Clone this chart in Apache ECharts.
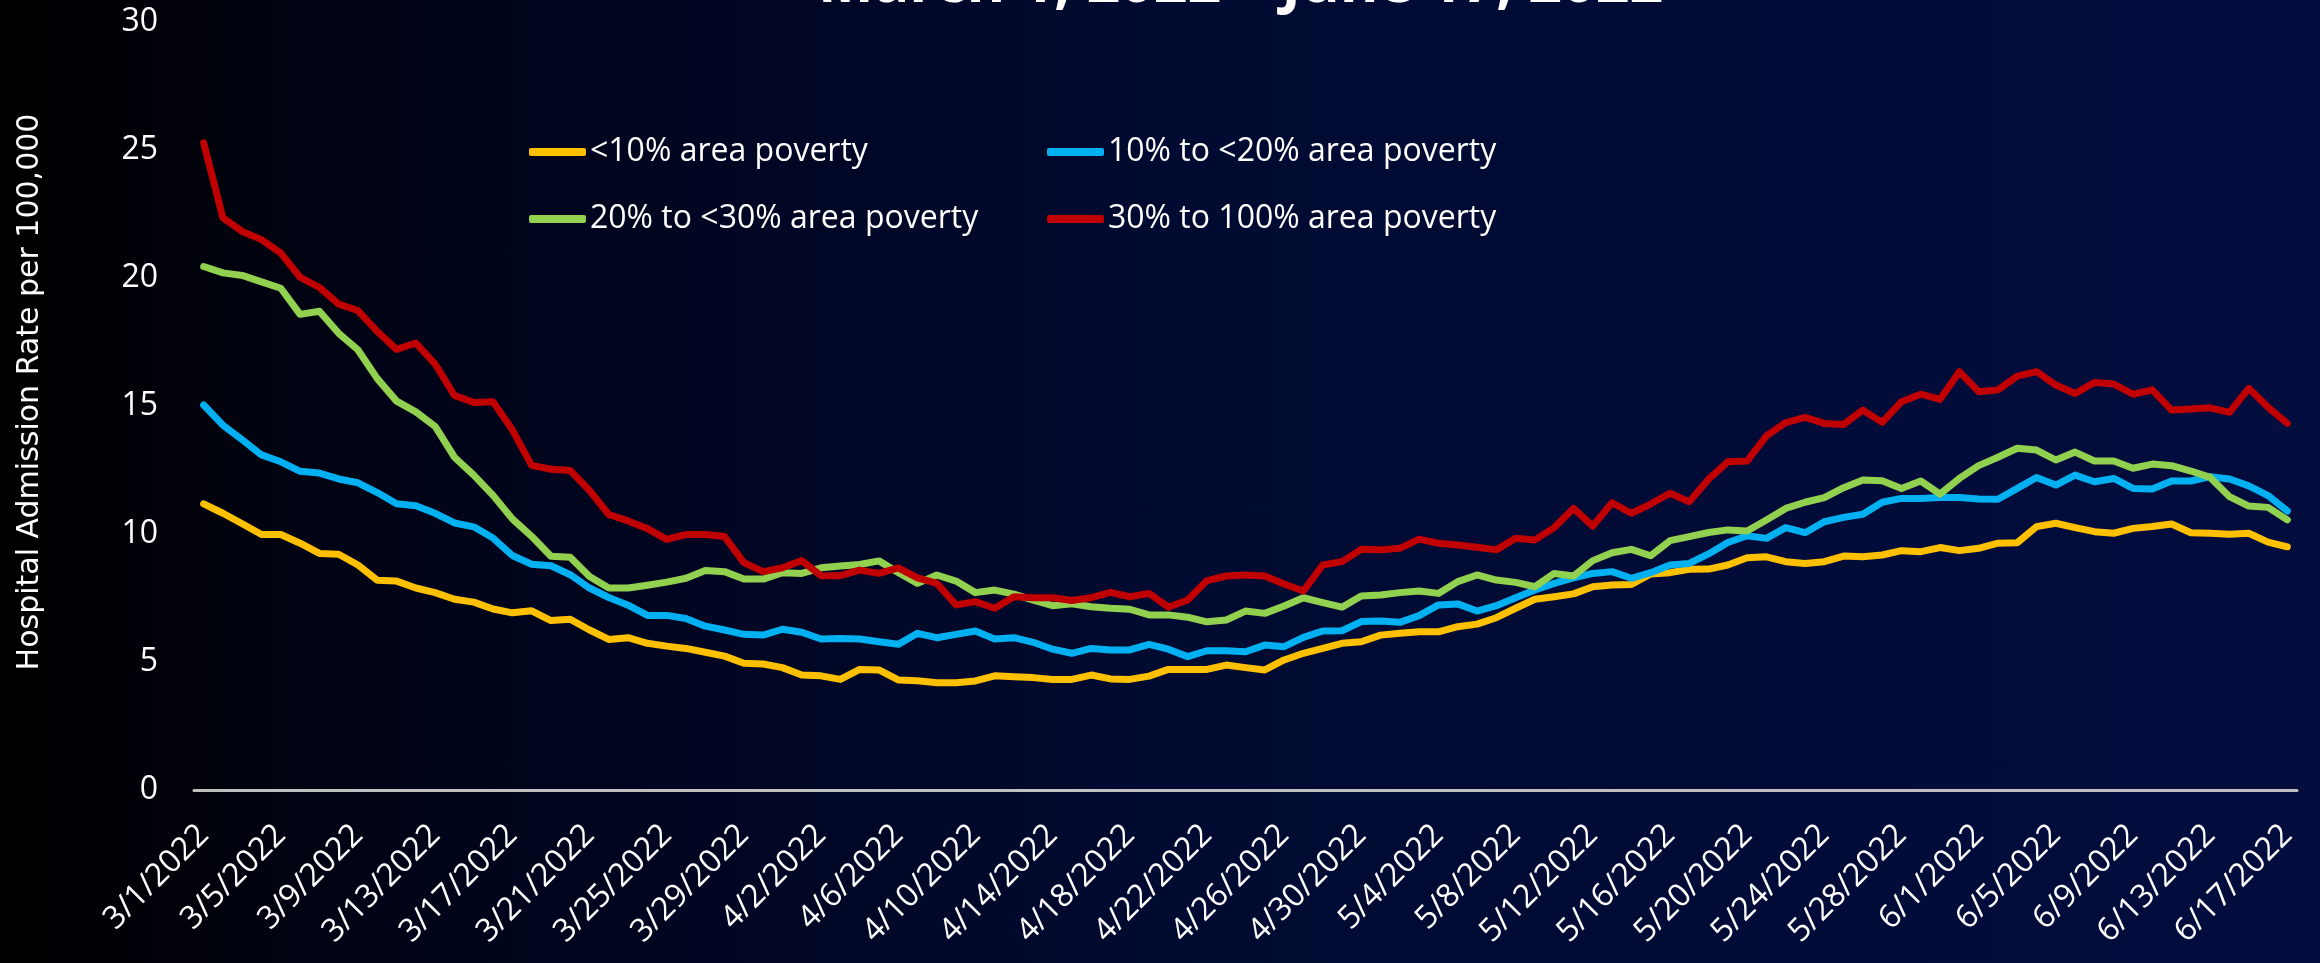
<!DOCTYPE html>
<html>
<head>
<meta charset="utf-8">
<script src="https://cdn.jsdelivr.net/npm/echarts@6/dist/echarts.min.js"></script>
<style>
  html, body { margin: 0; padding: 0; }
  #chart {
    width: 2320px;
    height: 963px;
    background: linear-gradient(to right, #000000 0%, #00041a 20%, #010a30 50%, #030d3e 100%);
  }
</style>
</head>
<body>
<div id="chart"></div>
<script>
// daily labels 3/1/2022 .. 6/17/2022
const monthDays = [[3, 31], [4, 30], [5, 31], [6, 17]];
const dates = [];
monthDays.forEach(([m, n]) => {
  for (let d = 1; d <= n; d++) dates.push(m + '/' + d + '/2022');
});

const seriesNames = ['<10% area poverty', '10% to <20% area poverty', '20% to <30% area poverty', '30% to 100% area poverty'];
const colorList = ['#FFC000', '#00B0F0', '#92D050', '#C00000'];

const yTicks = [0, 5, 10, 15, 20, 25, 30];

const lt10 = [11.18, 10.81, 10.4, 9.98, 9.98, 9.64, 9.24, 9.21, 8.79, 8.19, 8.16, 7.89, 7.71, 7.45, 7.34, 7.07, 6.92, 7.0, 6.62, 6.67, 6.25, 5.88, 5.95, 5.73, 5.62, 5.53, 5.38,
  5.23, 4.95, 4.92, 4.78, 4.49, 4.46, 4.32, 4.71, 4.69, 4.3, 4.27, 4.19, 4.19, 4.26, 4.46, 4.42, 4.39, 4.32, 4.32, 4.49, 4.34, 4.32, 4.45, 4.71, 4.71, 4.71, 4.88,
  4.78, 4.69, 5.08, 5.34, 5.53, 5.73, 5.79, 6.05, 6.12, 6.18, 6.18, 6.38, 6.48, 6.73, 7.1, 7.45, 7.55, 7.66, 7.94, 8.01, 8.03, 8.44, 8.49, 8.62, 8.63, 8.79, 9.07,
  9.11, 8.92, 8.85, 8.92, 9.14, 9.11, 9.18, 9.35, 9.31, 9.47, 9.35, 9.44, 9.64, 9.66, 10.29, 10.42, 10.25, 10.09, 10.03, 10.22, 10.29, 10.39, 10.05, 10.03, 9.99, 10.03, 9.68, 9.5];

const p10to20 = [15.04, 14.25, 13.68, 13.09, 12.82, 12.45, 12.38, 12.15, 12.0, 11.62, 11.18, 11.1, 10.81, 10.43, 10.28, 9.84, 9.16, 8.82, 8.76, 8.41, 7.89, 7.52, 7.22, 6.82, 6.82, 6.7, 6.4,
  6.25, 6.08, 6.05, 6.28, 6.16, 5.9, 5.92, 5.9, 5.79, 5.69, 6.12, 5.95, 6.08, 6.21, 5.9, 5.95, 5.77, 5.5, 5.34, 5.53, 5.47, 5.47, 5.69, 5.5, 5.21, 5.44, 5.44,
  5.4, 5.66, 5.6, 5.96, 6.21, 6.22, 6.58, 6.6, 6.55, 6.81, 7.23, 7.27, 6.99, 7.2, 7.51, 7.81, 8.07, 8.29, 8.46, 8.53, 8.27, 8.49, 8.79, 8.85, 9.22, 9.67, 9.93,
  9.83, 10.25, 10.05, 10.48, 10.65, 10.77, 11.24, 11.39, 11.39, 11.43, 11.43, 11.37, 11.36, 11.78, 12.21, 11.91, 12.3, 12.04, 12.17, 11.78, 11.76, 12.07, 12.07, 12.24, 12.15, 11.88, 11.5, 10.9];

const p20to30 = [20.45, 20.2, 20.1, 19.85, 19.6, 18.58, 18.7, 17.84, 17.19, 16.07, 15.19, 14.77, 14.2, 13.0, 12.3, 11.51, 10.59, 9.91, 9.13, 9.09, 8.34, 7.89, 7.89, 8.0, 8.12, 8.27, 8.57,
  8.53, 8.24, 8.24, 8.49, 8.46, 8.68, 8.75, 8.81, 8.95, 8.5, 8.07, 8.4, 8.16, 7.71, 7.81, 7.65, 7.42, 7.2, 7.27, 7.16, 7.1, 7.06, 6.84, 6.84, 6.75, 6.57, 6.64,
  6.99, 6.9, 7.19, 7.51, 7.32, 7.14, 7.58, 7.62, 7.71, 7.77, 7.68, 8.14, 8.4, 8.2, 8.11, 7.94, 8.46, 8.36, 8.96, 9.27, 9.4, 9.15, 9.74, 9.9, 10.06, 10.16, 10.12,
  10.55, 11.0, 11.24, 11.42, 11.81, 12.11, 12.08, 11.78, 12.07, 11.56, 12.17, 12.67, 13.0, 13.35, 13.28, 12.89, 13.2, 12.85, 12.85, 12.57, 12.73, 12.67, 12.46, 12.21, 11.46, 11.09, 11.04, 10.55];

const p30to100 = [25.28, 22.35, 21.82, 21.5, 20.97, 20.03, 19.63, 18.98, 18.73, 17.91, 17.21, 17.46, 16.64, 15.41, 15.14, 15.17, 14.07, 12.68, 12.53, 12.48, 11.7, 10.76, 10.51, 10.21, 9.79, 9.98, 9.98,
  9.9, 8.88, 8.53, 8.68, 8.96, 8.37, 8.37, 8.59, 8.46, 8.68, 8.29, 8.07, 7.23, 7.36, 7.1, 7.55, 7.51, 7.51, 7.4, 7.51, 7.72, 7.55, 7.68, 7.14, 7.42, 8.18, 8.36,
  8.4, 8.36, 8.05, 7.77, 8.79, 8.92, 9.4, 9.38, 9.44, 9.8, 9.64, 9.57, 9.48, 9.38, 9.83, 9.77, 10.25, 11.0, 10.31, 11.22, 10.81, 11.17, 11.59, 11.26, 12.14, 12.82, 12.85,
  13.83, 14.35, 14.56, 14.32, 14.28, 14.84, 14.36, 15.17, 15.46, 15.26, 16.34, 15.56, 15.63, 16.17, 16.34, 15.82, 15.49, 15.92, 15.86, 15.46, 15.63, 14.84, 14.88, 14.93, 14.75, 15.69, 14.95, 14.32];

const allValues = [lt10, p10to20, p20to30, p30to100];

// legend slots: two rows, two columns
const legendLefts = [529, 1047, 529, 1047];
const legendTops = [134, 134, 201, 201];

const myChart = echarts.init(document.getElementById('chart'), null, { renderer: 'canvas' });

const legendData = seriesNames.map((name, i) => ({
  left: legendLefts[i],
  top: legendTops[i],
  padding: 0,
  icon: 'roundRect',
  itemWidth: 57,
  itemHeight: 8,
  itemGap: 0,
  textStyle: {
    color: '#ffffff',
    fontFamily: 'Open Sans',
    fontSize: 32,
    lineHeight: 36,
    padding: [0, 0, 0, -1]
  },
  data: [name]
}));

const option = {
  animation: false,
  color: colorList,
  graphic: [
    {
      // title sits partly above the top edge, as in the slide
      type: 'text',
      left: 818,
      top: -44,
      style: {
        text: 'March 1, 2022 \u2013 June 17, 2022',
        fill: '#ffffff',
        font: 'bold 59px "Open Sans"'
      }
    },
    {
      type: 'text',
      x: 30,
      y: 392,
      rotation: Math.PI / 2,
      style: {
        text: 'Hospital Admission Rate per 100,000',
        fill: '#ffffff',
        font: '30px "DejaVu Sans"',
        align: 'center',
        verticalAlign: 'middle'
      }
    }
  ],
  legend: legendData,
  grid: {
    left: 194,
    right: 23,
    top: 22,
    bottom: 173,
    containLabel: false,
    outerBoundsMode: 'none'
  },
  xAxis: {
    type: 'category',
    data: dates,
    boundaryGap: true,
    axisLine: { show: true, lineStyle: { color: '#bfbfbf', width: 3 } },
    axisTick: { show: false },
    axisLabel: {
      interval: 3,
      rotate: 45,
      margin: 40,
      color: '#ffffff',
      fontFamily: 'Open Sans',
      fontSize: 32
    },
    splitLine: { show: false }
  },
  yAxis: {
    type: 'value',
    min: yTicks[0],
    max: yTicks[yTicks.length - 1],
    interval: 5,
    axisLine: { show: false },
    axisTick: { show: false },
    splitLine: { show: false },
    axisLabel: {
      margin: 36,
      color: '#ffffff',
      fontFamily: 'Open Sans',
      fontSize: 32
    }
  },
  series: seriesNames.map((name, i) => ({
    name: name,
    type: 'line',
    data: allValues[i],
    showSymbol: false,
    symbol: 'none',
    smooth: false,
    lineStyle: { width: 7, color: colorList[i], cap: 'round', join: 'round' },
    itemStyle: { color: colorList[i] },
    emphasis: { disabled: true }
  }))
};

myChart.setOption(option);
</script>
</body>
</html>
